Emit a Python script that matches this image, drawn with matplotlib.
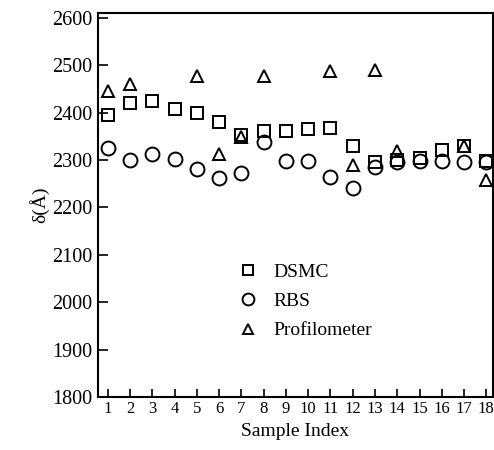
import matplotlib
matplotlib.use('Agg')
import matplotlib.pyplot as plt
import numpy as np

plt.rcParams['font.family'] = ['Liberation Serif', 'DejaVu Serif']

samples = np.arange(1, 19)
dsmc = [2395, 2420, 2425, 2408, 2400, 2380, 2352, 2362, 2362, 2365, 2368, 2330, 2295, 2300, 2305, 2322, 2330, 2298]
rbs = [2325, 2300, 2312, 2303, 2280, 2262, 2272, 2337, 2298, 2298, 2265, 2240, 2285, 2296, 2298, 2297, 2296, 2295]
prof_idx = [1, 2, 5, 6, 7, 8, 11, 12, 13, 14, 17, 18]
prof = [2445, 2460, 2478, 2312, 2348, 2478, 2488, 2290, 2490, 2318, 2330, 2258]

fig = plt.figure(figsize=(4.94, 4.5), dpi=100)
ax = fig.add_axes([0.198, 0.118, 0.8, 0.853])

ax.plot(samples, dsmc, 's', ms=8, mfc='none', mec='black', mew=1.4, ls='none', label='DSMC')
ax.plot(samples, rbs, 'o', ms=10, mfc='none', mec='black', mew=1.4, ls='none', label='RBS')
ax.plot(prof_idx, prof, '^', ms=9, mfc='none', mec='black', mew=1.4, ls='none', label='Profilometer')

ax.set_xlim(0.55, 18.3)
ax.set_ylim(1800, 2610)
ax.set_xticks(samples)
ax.set_yticks(np.arange(1800, 2601, 100))
ax.tick_params(axis='x', direction='in', length=6, width=1.2, labelsize=12, pad=3)
ax.tick_params(axis='y', direction='in', length=7, width=1.2, labelsize=14.5, pad=4)
for s in ax.spines.values():
    s.set_linewidth(1.5)

ax.set_xlabel('Sample Index', fontsize=14, labelpad=4)
ax.set_ylabel('δ(Å)', fontsize=14, labelpad=2)

ax.legend(loc='upper left', bbox_to_anchor=(0.312, 0.394), frameon=False, fontsize=14,
          handlelength=1.0, handletextpad=0.8, labelspacing=0.6, markerscale=0.85)

fig.savefig('out.png', dpi=100)
